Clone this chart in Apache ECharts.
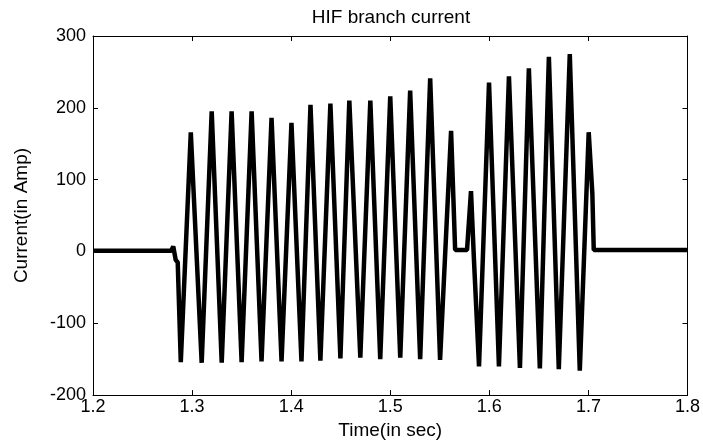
<!DOCTYPE html>
<html>
<head>
<meta charset="utf-8">
<script src="https://cdn.jsdelivr.net/npm/echarts@6/dist/echarts.min.js"></script>
<style>
html,body{margin:0;padding:0;background:#fff;}
#chart{width:703px;height:445px;}
</style>
</head>
<body>
<div id="chart"></div>
<script>
// Vertices of the HIF branch current waveform
const times = [
  1.200, 1.2790, 1.2810, 1.2825, 1.2835, 1.2855,
  1.2886, 1.2987,
  1.3097, 1.3198,
  1.3299, 1.3399,
  1.3500, 1.3601,
  1.3701, 1.3802,
  1.3903, 1.4003,
  1.4104, 1.4195,
  1.4295, 1.4396,
  1.4497, 1.4587,
  1.4698, 1.4799,
  1.4899, 1.5000,
  1.5101, 1.5201,
  1.5302, 1.5403,
  1.5503, 1.5614,
  1.5655, 1.5775, 1.5815, 1.5845,
  1.5896, 1.5997,
  1.6097, 1.6198,
  1.6309, 1.6399,
  1.6510, 1.6601,
  1.6701, 1.6812,
  1.6913, 1.7003,
  1.7040, 1.7054, 1.800
];
const currents = [
  1, 1, 7, 6, -12, -15,
  -154, 166,
  -155, 195,
  -155, 195,
  -154, 195,
  -153, 186,
  -153, 179,
  -153, 204,
  -152, 206,
  -149, 210,
  -148, 210,
  -150, 216,
  -148, 224,
  -150, 241,
  -151, 168,
  2, 2, 84, -12,
  -160, 235,
  -160, 244,
  -162, 255,
  -163, 271,
  -164, 275,
  -166, 166,
  80, 2, 2
];
const xTicks = [1.2, 1.3, 1.4, 1.5, 1.6, 1.7, 1.8];
const yTicks = [-200, -100, 0, 100, 200, 300];

const titleText = 'HIF branch current';
const xName = 'Time(in sec)';
const yName = 'Current(in Amp)';

const seriesData = times.map((t, i) => [t, currents[i]]);
const FONT = 'Liberation Sans, Arial, sans-serif';
const labelStyle = {color: '#000', fontFamily: FONT, fontSize: 18};

const chart = echarts.init(document.getElementById('chart'), null, {renderer: 'canvas'});
const axisLine = {show: true, onZero: false, lineStyle: {color: '#000', width: 1}};
const axisTick = {show: true, inside: true, length: 5, lineStyle: {color: '#000', width: 1}};

chart.setOption({
  animation: false,
  backgroundColor: '#fff',
  title: {
    text: titleText,
    left: 391, top: 8, padding: 0, textAlign: 'center',
    textStyle: {color: '#000', fontFamily: FONT, fontSize: 19, fontWeight: 'normal'}
  },
  grid: {left: 93, right: 14, top: 36, bottom: 45, containLabel: false},
  xAxis: [{
    type: 'value', min: xTicks[0], max: xTicks[xTicks.length - 1], interval: 0.1,
    position: 'bottom',
    name: xName, nameLocation: 'middle', nameGap: 23,
    nameTextStyle: {color: '#000', fontFamily: FONT, fontSize: 19},
    axisLine, axisTick,
    axisLabel: Object.assign({margin: 3, formatter: v => (Math.round(v * 10) / 10).toFixed(1)}, labelStyle),
    splitLine: {show: false}
  }, {
    type: 'value', min: xTicks[0], max: xTicks[xTicks.length - 1], interval: 0.1,
    position: 'top', axisLine, axisTick, axisLabel: {show: false}, splitLine: {show: false}
  }],
  yAxis: [{
    type: 'value', min: yTicks[0], max: yTicks[yTicks.length - 1], interval: 100,
    position: 'left',
    name: yName, nameLocation: 'middle', nameGap: 62, nameRotate: 90,
    nameTextStyle: {color: '#000', fontFamily: FONT, fontSize: 19},
    axisLine, axisTick,
    axisLabel: Object.assign({margin: 7}, labelStyle),
    splitLine: {show: false}
  }, {
    type: 'value', min: yTicks[0], max: yTicks[yTicks.length - 1], interval: 100,
    position: 'right', axisLine, axisTick, axisLabel: {show: false}, splitLine: {show: false}
  }],
  series: [{
    type: 'line',
    data: seriesData,
    xAxisIndex: 0, yAxisIndex: 0,
    symbol: 'none',
    lineStyle: {color: '#000', width: 4.5, join: 'bevel'},
    silent: true
  }]
});
</script>
</body>
</html>
